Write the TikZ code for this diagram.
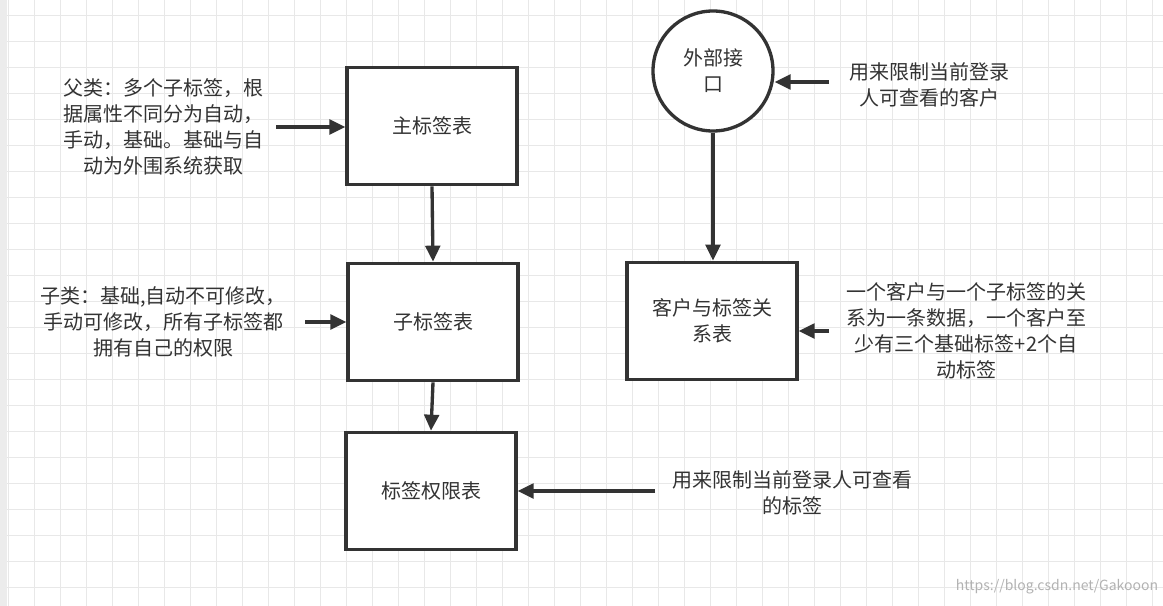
\documentclass[tikz,border=0pt]{standalone}
\usepackage{fontspec}
\setmainfont{Noto Sans CJK SC}
\usetikzlibrary{arrows.meta}
\definecolor{ink}{HTML}{333333}
\begin{document}
\begin{tikzpicture}[x=0.75pt,y=-0.75pt,
  box/.style={draw=ink,line width=2.5pt,fill=white,minimum width=127.5pt,minimum height=88pt,text=ink,font=\fontsize{15}{19.5}\selectfont,align=center,text width=115pt},
  lbl/.style={text=ink,font=\fontsize{15}{19.5}\selectfont,align=center},
  arr/.style={draw=ink,line width=2.5pt,-{Triangle[length=12pt,width=11pt]}}]
\useasboundingbox (0,0) rectangle (1163,606);
\fill[white] (0,0) rectangle (1163,606);
\fill[gray!15] (0,0) rectangle (7,606);
\foreach \x in {8,34,...,1163} \draw[gray!18,line width=0.6pt] (\x,0) -- (\x,606);
\foreach \y in {15,41,...,606} \draw[gray!18,line width=0.6pt] (7,\y) -- (1163,\y);
\node[box] (main) at (432,126) {主标签表};
\node[box] (sub) at (433,322) {子标签表};
\node[box] (perm) at (431,491) {标签权限表};
\node[box] (rel) at (712,321) {客户与标签关\\系表};
\node[circle,draw=ink,line width=2.5pt,fill=white,minimum size=90pt,text=ink,font=\fontsize{15}{19.5}\selectfont,align=center] (ext) at (713,71) {外部接\\口};
\node[lbl] (t1) at (163,127) {父类：多个子标签，根\\据属性不同分为自动，\\手动，基础。基础与自\\动为外围系统获取};
\node[lbl] (t2) at (163,322) {子类：基础,自动不可修改，\\手动可修改，所有子标签都\\拥有自己的权限};
\node[lbl] (t3) at (929,85) {用来限制当前登录\\人可查看的客户};
\node[lbl] (t4) at (966,331) {一个客户与一个子标签的关\\系为一条数据，一个客户至\\少有三个基础标签+2个自\\动标签};
\node[lbl] (t5) at (792,493) {用来限制当前登录人可查看\\的标签};
\node[text=gray!60,font=\fontsize{10.5}{12}\selectfont] (wm) at (1057,587) {https://blog.csdn.net/Gakooon};
\coordinate (a1) at (276,127);
\coordinate (a2) at (305,322);
\coordinate (a3) at (829,82);
\coordinate (a4) at (829,331);
\coordinate (a5) at (655,491);
\draw[arr] (a1) -- (main.west|-a1);
\draw[arr] (a2) -- (sub.west|-a2);
\draw[arr] (a3) -- (ext.east|-a3);
\draw[arr] (a4) -- (rel.east|-a4);
\draw[arr] (a5) -- (perm.east|-a5);
\draw[arr] (main.south) -- (sub.north);
\draw[arr] (sub.south) -- (perm.north);
\draw[arr] (ext.south) -- (ext.south|-rel.north);
\end{tikzpicture}
\end{document}
